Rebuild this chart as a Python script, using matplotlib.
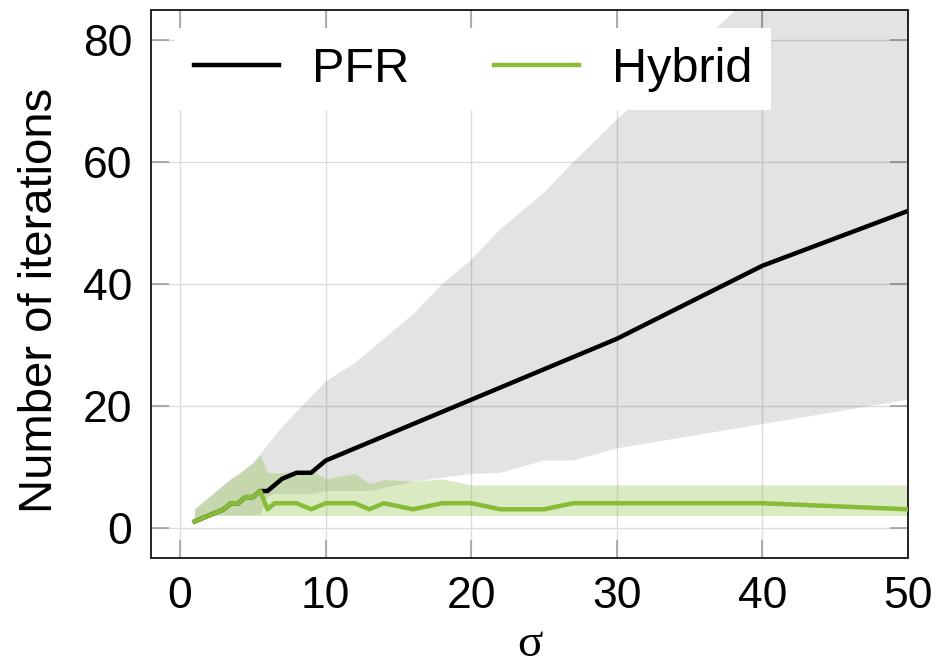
import matplotlib
matplotlib.use("Agg")
import matplotlib.pyplot as plt

# ---- data ----
sigma = [1, 2, 3, 3.5, 4, 4.5, 5, 5.5, 6, 6.5, 7, 8, 9, 10, 12, 13, 14, 16, 18, 20, 22, 25, 27, 30, 40, 50]

pfr_mean = [1, 2, 3, 4, 4, 5, 5, 6, 6, 7, 8, 9, 9, 11, 13, 14, 15, 17, 19, 21, 23, 26, 28, 31, 43, 52]
pfr_low = [1, 2, 2, 2, 2, 2, 2, 2, 5, 5.5, 5.5, 5.5, 5.5, 6, 6, 6, 6.5, 7.5, 8.2, 8.8, 9, 11, 11, 13, 17, 21]
pfr_high = [3, 5, 7, 8, 8.7, 9.7, 10.6, 12, 13.5, 15, 16.5, 19, 21.5, 24, 27, 29, 31, 35, 40, 44, 49, 55, 60, 67, 89, 111]

hyb_mean = [1, 2, 3, 4, 4, 5, 5, 6, 3, 4, 4, 4, 3, 4, 4, 3, 4, 3, 4, 4, 3, 3, 4, 4, 4, 3]
hyb_low = [1, 2, 2, 2, 2, 2, 2, 2, 2, 2, 2, 2, 2, 2, 2, 2, 2, 2, 2, 2, 2, 2, 2, 2, 2, 2]
hyb_high = [3, 5, 7, 8, 8.7, 9.7, 10.6, 12, 9, 9, 9, 9.3, 9.5, 8, 8.9, 7.2, 7.9, 7.6, 8, 7, 7, 7, 7, 7, 7, 7]

x_ticks = [0, 10, 20, 30, 40, 50]
y_ticks = [0, 20, 40, 60, 80]

GREEN = "#86bc36"

plt.rcParams['font.family'] = ['Liberation Sans', 'DejaVu Sans']

fig = plt.figure(figsize=(9.39, 6.69), dpi=100)
ax = fig.add_axes([151/939, 1 - 558/669, (908 - 151)/939, (558 - 10)/669])

ax.fill_between(sigma, pfr_low, pfr_high, color="black", alpha=0.11, linewidth=0, zorder=1)
ax.fill_between(sigma, hyb_low, hyb_high, color=GREEN, alpha=0.30, linewidth=0, zorder=1.5)
ax.plot(sigma, pfr_mean, color="black", lw=3.2, label="PFR", zorder=2, solid_joinstyle="round")
ax.plot(sigma, hyb_mean, color=GREEN, lw=3.2, label="Hybrid", zorder=3, solid_joinstyle="round")

ax.set_xlim(-2, 50)
ax.set_ylim(-5, 85)
ax.set_xticks(x_ticks)
ax.set_yticks(y_ticks)
ax.set_axisbelow(True)
ax.grid(True, color="#dcdcdc", lw=1.0)

ax.tick_params(axis="both", which="both", direction="in", length=13, width=1.1,
               color="#999999", labelsize=32, top=True, right=True)
ax.tick_params(axis="y", pad=13.5)
ax.tick_params(axis="x", pad=13)

for s in ax.spines.values():
    s.set_linewidth(1.4)
    s.set_color("#222222")

ax.set_ylabel("Number of iterations", fontsize=34)
ax.yaxis.set_label_coords(-0.1176, 0.471)
ax.set_xlabel("σ", fontsize=34, family=["Liberation Serif", "DejaVu Serif"], labelpad=5)

leg = ax.legend(loc="upper left", bbox_to_anchor=(0.032, 0.967), ncol=2, fontsize=35,
                frameon=True, fancybox=False, framealpha=1.0, edgecolor="none",
                facecolor="white", borderaxespad=0, borderpad=0.38,
                handlelength=1.75, handletextpad=0.68, columnspacing=1.75)
leg.set_zorder(5)

fig.savefig("out.png", dpi=100)
